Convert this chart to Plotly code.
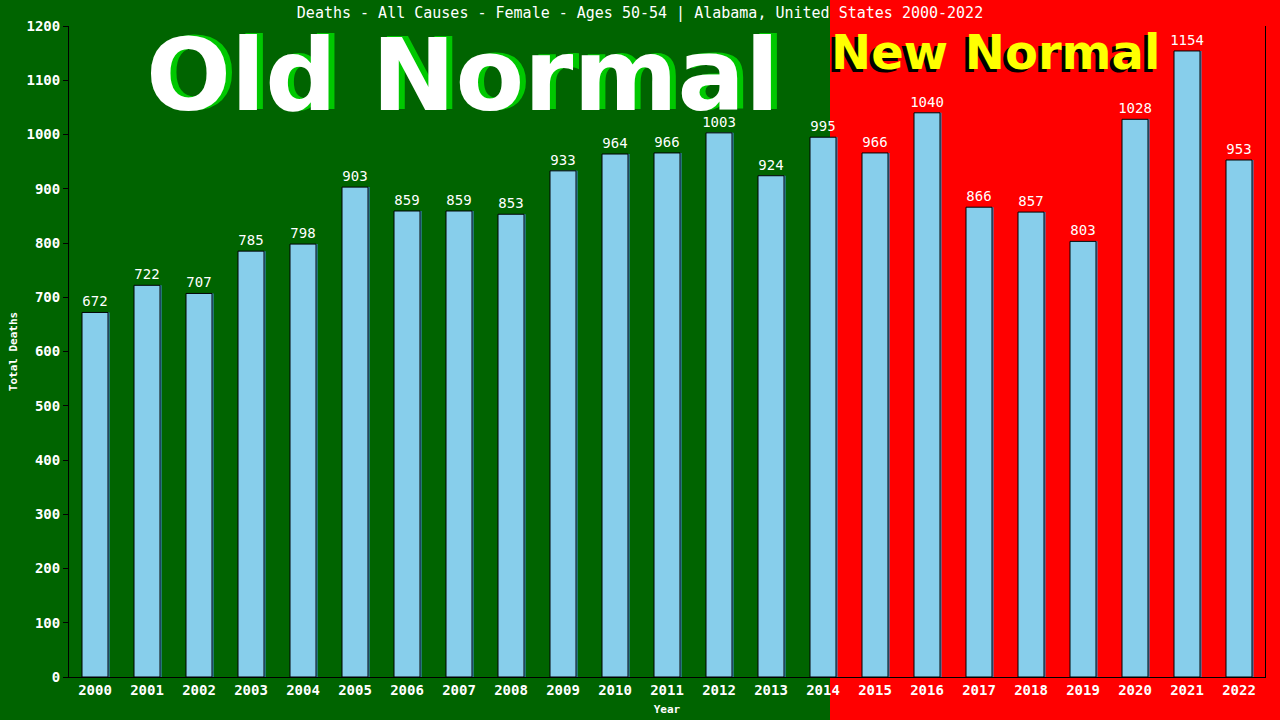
import plotly.graph_objects as go

years = [str(y) for y in range(2000, 2023)]
deaths = [672, 722, 707, 785, 798, 903, 859, 859, 853, 933, 964, 966, 1003,
          924, 995, 966, 1040, 866, 857, 803, 1028, 1154, 953]

title_text = "Deaths - All Causes - Female - Ages 50-54 | Alabama, United States 2000-2022"
mono = "DejaVu Sans Mono"

fig = go.Figure()

# little blue shadow on the right edge of each bar
fig.add_trace(go.Bar(
    x=years, y=deaths, width=0.5, offset=-0.22,
    marker=dict(color="#3d8ec4", line=dict(width=0)),
    hoverinfo="skip", showlegend=False,
))
fig.add_trace(go.Bar(
    x=years, y=deaths, width=0.5, offset=-0.25,
    marker=dict(color="#87CEEB", line=dict(color="black", width=1)),
    text=[str(v) for v in deaths], textposition="outside", constraintext="none",
    textfont=dict(family=mono, size=14, color="white"),
    cliponaxis=False, showlegend=False,
))

fig.update_layout(
    width=1280, height=720,
    barmode="overlay",
    paper_bgcolor="#006400",
    plot_bgcolor="rgba(0,0,0,0)",
    margin=dict(l=69, r=15, t=26, b=43),
    title=dict(text=title_text, x=0.5, xanchor="center", y=0.982, yanchor="middle",
               font=dict(family=mono, size=15, color="white")),
    shapes=[dict(type="rect", xref="paper", yref="paper",
                 x0=(830 - 69) / 1196, x1=1.05, y0=-0.2, y1=1.1,
                 fillcolor="#FF0000", line=dict(width=0), layer="below")],
    xaxis=dict(
        automargin=False,
        showgrid=False, showline=True, linecolor="black", linewidth=1,
        ticks="", tickfont=dict(family=mono, size=14, color="white", weight="bold"),
        title=dict(text="Year", standoff=8,
                   font=dict(family=mono, size=11, color="white", weight="bold")),
    ),
    yaxis=dict(
        automargin=False,
        range=[0, 1200], dtick=100, showgrid=False, zeroline=False,
        showline=True, mirror=True, linecolor="black", linewidth=1,
        ticks="outside", ticklen=5, tickcolor="black",
        tickfont=dict(family=mono, size=14, color="white", weight="bold"),
        title=dict(text="Total Deaths", standoff=6,
                   font=dict(family=mono, size=11, color="white", weight="bold")),
    ),
)

big = "DejaVu Sans"
labels = [
    ("Old Normal", 462, 76, 100, "white", "#00c800", 6, 1),
    ("New Normal", 995, 52, 48, "#FFFF00", "black", -4, -3),
]
for txt, px, py, size, col, shadow, dx, dy in labels:
    for c, sx, sy in [(shadow, dx, dy), (col, 0, 0)]:
        fig.add_annotation(text="<b>" + txt + "</b>", xref="paper", yref="paper",
                           x=(px - 69) / 1196, y=(677 - py) / 651,
                           xanchor="center", yanchor="middle", xshift=sx, yshift=sy,
                           showarrow=False, font=dict(family=big, size=size, color=c))

fig.write_html("out.html", config={"displayModeBar": False},
               post_script="document.body.style.margin='0';")
